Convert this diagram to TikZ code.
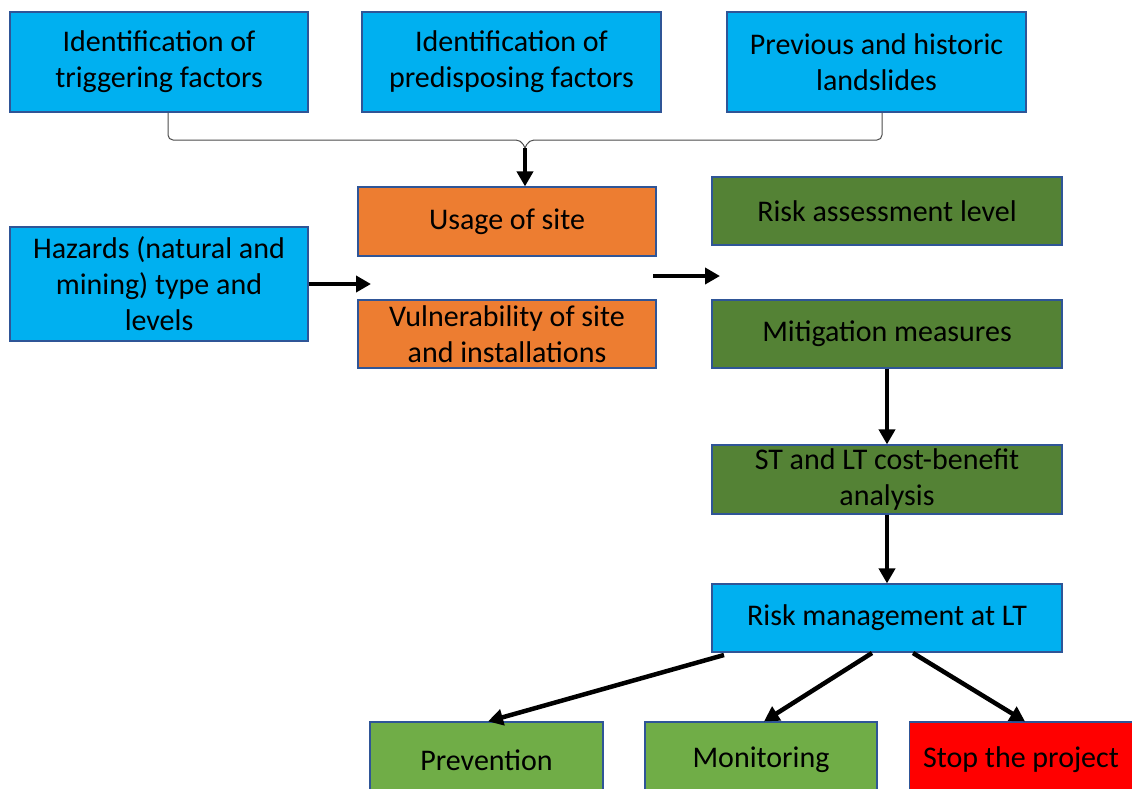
\documentclass[tikz,border=0pt]{standalone}
\usepackage{fontspec}
\setmainfont{Carlito}
\usetikzlibrary{arrows.meta,positioning}
\definecolor{boxblue}{RGB}{0,176,240}
\definecolor{boxorange}{RGB}{237,125,49}
\definecolor{boxdarkgreen}{RGB}{84,130,53}
\definecolor{boxgreen}{RGB}{112,173,71}
\definecolor{boxred}{RGB}{255,0,0}
\definecolor{boxedge}{RGB}{47,85,151}

\begin{document}
\begin{tikzpicture}[x=1pt, y=-1pt, every node/.style={font=\fontsize{30}{36}\selectfont},
    box/.style={draw=boxedge, line width=1.2pt, align=center, inner sep=0pt},
    flow/.style={line width=4.5pt, -{Triangle[length=15pt,width=16pt]}}]
      \useasboundingbox (0,0) rectangle (1132,788);
      \clip (0,0) rectangle (1132,788);
      % top row
      \node[box, fill=boxblue, minimum width=298, minimum height=100] (trig) at (159,62) {Identification of\\triggering factors};
      \node[box, fill=boxblue, minimum width=299, minimum height=100] (pred) at (511.5,62) {Identification of\\predisposing factors};
      \node[box, fill=boxblue, minimum width=299, minimum height=100] (hist) at (876.5,62) {Previous and historic\\landslides};
      % middle
      \node[box, fill=boxblue, minimum width=298, minimum height=114] (haz) at (159,284) {Hazards (natural and\\mining) type and\\levels};
      \node[box, fill=boxorange, minimum width=298, minimum height=69] (usage) at (507,221.5) {Usage of site};
      \node[box, fill=boxorange, minimum width=298, minimum height=68] (vuln) at (507,334) {Vulnerability of site\\and installations};
      \node[box, fill=boxdarkgreen, minimum width=350, minimum height=68] (risk) at (887,211) {Risk assessment level};
      \node[box, fill=boxdarkgreen, minimum width=350, minimum height=68] (mitig) at (887,334) {Mitigation measures};
      \node[box, fill=boxdarkgreen, minimum width=350, minimum height=69] (cost) at (887,479.5) {ST and LT cost-benefit\\analysis};
      \node[box, fill=boxblue, minimum width=350, minimum height=68] (manage) at (887,618) {Risk management at LT};
      % bottom row
      \node[box, fill=boxgreen, minimum width=233, minimum height=76] (prev) at (486.5,760) {Prevention};
      \node[box, fill=boxgreen, minimum width=232, minimum height=76] (monit) at (761,760) {Monitoring};
      \node[box, fill=boxred, minimum width=223, minimum height=76] (stop) at (1021,760) {Stop the project};
      % brace
      \coordinate (joint) at (525,148);
      \draw[gray!60!black, line width=1pt, rounded corners=5pt] (trig.south -| 168,0) |- (521,140) -- (joint);
      \draw[gray!60!black, line width=1pt, rounded corners=5pt] (hist.south -| 882,0) |- (529,140) -- (joint);
      \draw[flow] (joint) -- (usage.north -| joint);
      % connectors
      \coordinate (hazend) at (371,284);
      \coordinate (midstart) at (653,276);
      \coordinate (midend) at (720,276);
      \draw[flow] (haz.east |- hazend) -- (hazend);
      \draw[flow] (midstart) -- (midend);
      \draw[flow] (mitig) -- (cost);
      \draw[flow] (cost) -- (manage);
      \coordinate (outa) at (724,655);
      \coordinate (outb) at (872,653);
      \coordinate (outc) at (913,653);
      \draw[flow] (outa) -- (prev.north -| 488,0);
      \draw[flow] (outb) -- (monit.north -| 764,0);
      \draw[flow] (outc) -- (stop.north -| 1025,0);
    \end{tikzpicture}
\end{document}
